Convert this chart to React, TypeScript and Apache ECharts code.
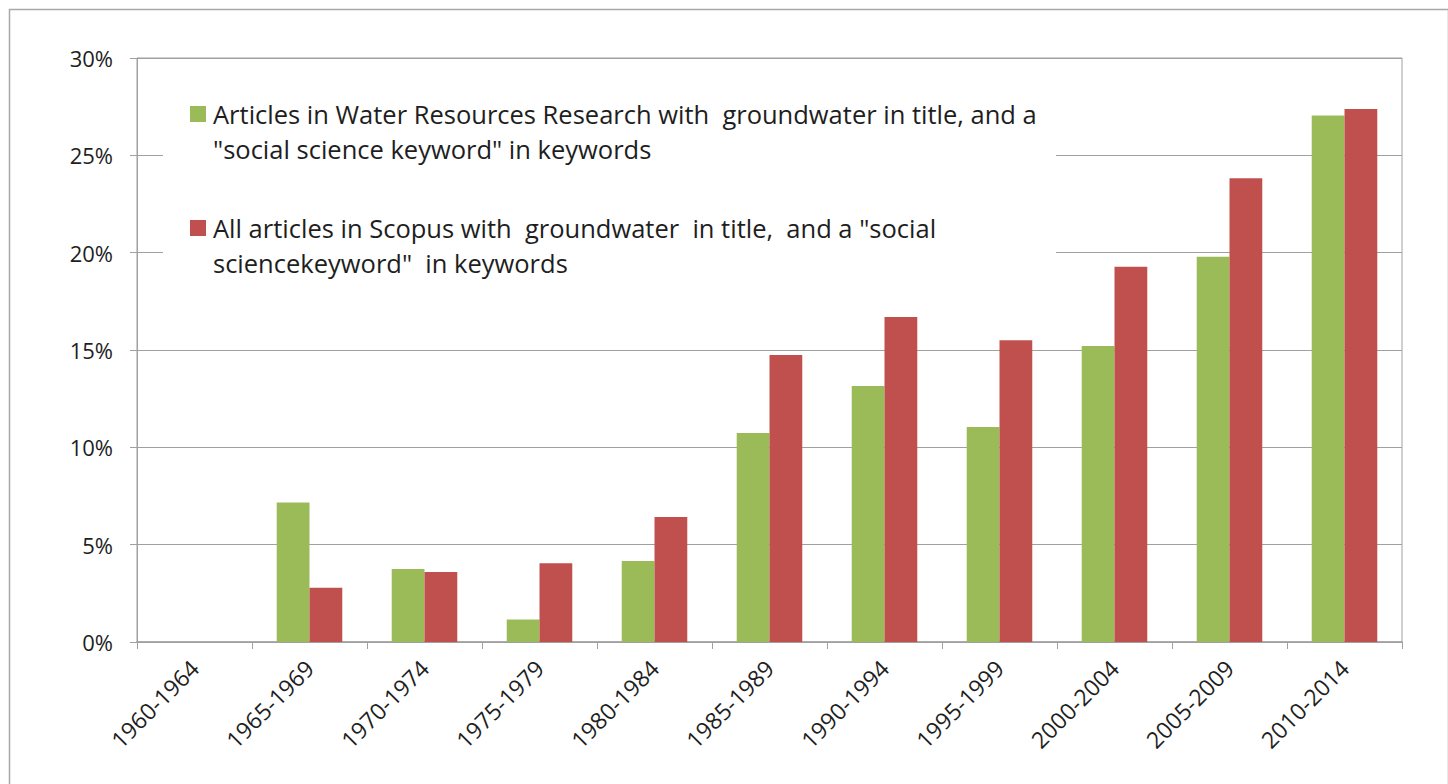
import React, { useEffect, useRef } from "react";
import * as echarts from "echarts";

const categories = [
  "1960-1964", "1965-1969", "1970-1974", "1975-1979", "1980-1984", "1985-1989",
  "1990-1994", "1995-1999", "2000-2004", "2005-2009", "2010-2014",
];
const wrrValues = [0, 7.16, 3.75, 1.15, 4.16, 10.74, 13.15, 11.04, 15.2, 19.79, 27.04];
const scopusValues = [0, 2.79, 3.6, 4.04, 6.42, 14.74, 16.7, 15.5, 19.28, 23.82, 27.38];
const seriesNames = [
  'Articles in Water Resources Research with  groundwater in title, and a\n"social science keyword" in keywords',
  'All articles in Scopus with  groundwater  in title,  and a "social\nsciencekeyword"  in keywords',
];
const colors = ["#9BBB59", "#C0504D"];

const FONT = "'Open Sans', 'Noto Sans', sans-serif";
const TEXT = "#1e1e1e";
const GRIDC = "#a0a0a0";

export default function App() {
  const ref = useRef<HTMLDivElement>(null);
  useEffect(() => {
    document.body.style.margin = "0";
    const chart = echarts.init(ref.current!, null, { renderer: "svg" });
    chart.setOption({
      animation: false,
      backgroundColor: "#fff",
      textStyle: { fontFamily: FONT, color: TEXT },
      grid: {
        left: 137, top: 58, right: 46, bottom: 142,
        show: true, borderColor: GRIDC, borderWidth: 1, backgroundColor: "transparent",
      },
      xAxis: {
        type: "category",
        data: categories,
        axisLine: { lineStyle: { color: GRIDC, width: 1.5 } },
        axisTick: { show: true, length: 7, lineStyle: { color: GRIDC } },
        axisLabel: {
          interval: 0, rotate: 45, margin: 22,
          fontSize: 23, color: TEXT, fontFamily: FONT,
        },
      },
      yAxis: {
        type: "value",
        min: 0, max: 30, interval: 5,
        axisLine: { show: true, lineStyle: { color: GRIDC } },
        axisTick: { show: true, length: 7, lineStyle: { color: GRIDC } },
        splitLine: { lineStyle: { color: GRIDC } },
        axisLabel: {
          formatter: "{value}%", margin: 24,
          fontSize: 22, color: TEXT, fontFamily: FONT,
        },
      },
      series: [
        {
          name: seriesNames[0], type: "bar", data: wrrValues,
          itemStyle: { color: colors[0] }, barGap: "0%", barCategoryGap: "43%",
        },
        {
          name: seriesNames[1], type: "bar", data: scopusValues,
          itemStyle: { color: colors[1] }, barGap: "0%", barCategoryGap: "43%",
        },
      ],
      graphic: [
        {
          type: "rect", left: 7, top: 7, z: 0,
          shape: { width: 1439, height: 800 },
          style: { fill: "none", stroke: "#a8a8a8", lineWidth: 1.5 },
          silent: true,
        },
        {
          type: "rect", left: 163, top: 78, z: 10,
          shape: { width: 893, height: 212 },
          style: { fill: "#fff" },
          silent: true,
        },
        {
          type: "rect", left: 190, top: 106, z: 11,
          shape: { width: 16, height: 16 },
          style: { fill: colors[0] },
        },
        {
          type: "text", left: 213, top: 96, z: 11,
          style: {
            text: seriesNames[0], fontSize: 25.5, lineHeight: 35,
            fontFamily: FONT, fill: TEXT,
          },
        },
        {
          type: "rect", left: 190, top: 220, z: 11,
          shape: { width: 16, height: 16 },
          style: { fill: colors[1] },
        },
        {
          type: "text", left: 213, top: 210, z: 11,
          style: {
            text: seriesNames[1], fontSize: 25.5, lineHeight: 35,
            fontFamily: FONT, fill: TEXT,
          },
        },
      ],
    });
    return () => chart.dispose();
  }, []);
  return <div ref={ref} style={{ width: 1448, height: 784 }} />;
}
